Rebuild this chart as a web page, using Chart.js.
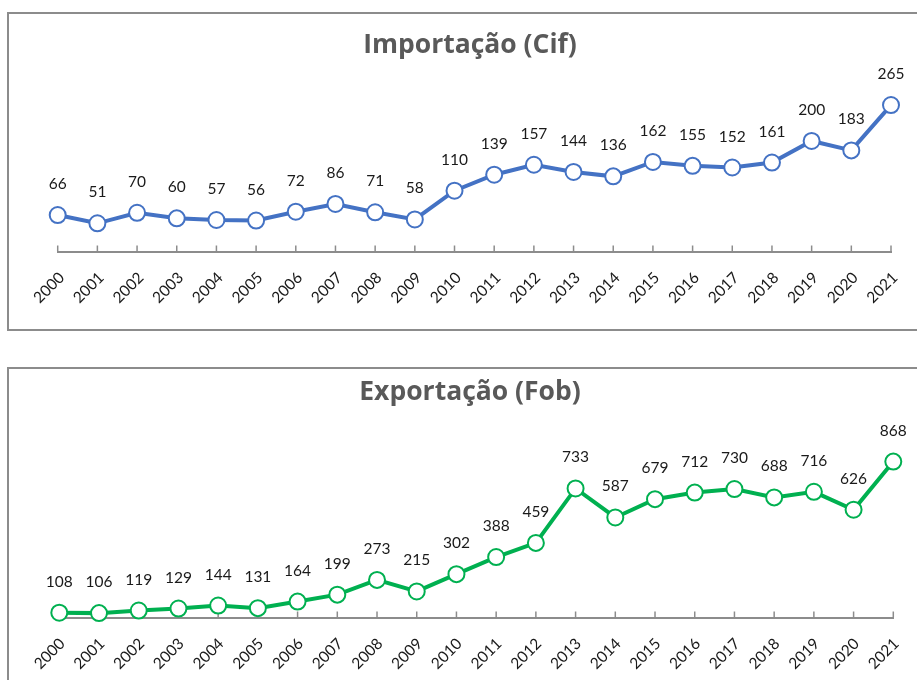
<!DOCTYPE html>
<html><head><meta charset="utf-8">
<script src="https://cdn.jsdelivr.net/npm/chart.js@4.4.1/dist/chart.umd.min.js"></script>
<style>
html,body{margin:0;padding:0;background:#fff;overflow:hidden;width:917px;height:680px;}
.box{position:absolute;border:2px solid #8c8c8c;box-sizing:border-box;}
canvas{position:absolute;}
</style></head><body>
<div class="box" style="left:7px;top:12px;width:940px;height:319px"></div>
<div class="box" style="left:7px;top:367px;width:940px;height:330px"></div>
<canvas id="c1" width="920" height="313" style="left:10px;top:15px"></canvas>
<canvas id="c2" width="920" height="310" style="left:10px;top:370px"></canvas>
<script>
const years = ['2000','2001','2002','2003','2004','2005','2006','2007','2008','2009','2010','2011','2012','2013','2014','2015','2016','2017','2018','2019','2020','2021'];
const importValues = [66,51,70,60,57,56,72,86,71,58,110,139,157,144,136,162,155,152,161,200,183,265];
const exportValues = [108,106,119,129,144,131,164,199,273,215,302,388,459,733,587,679,712,730,688,716,626,868];
const importTitle = 'Importação (Cif)';
const exportTitle = 'Exportação (Fob)';

const FONT = 'Lato, "Open Sans", sans-serif';
const TITLE_FONT = '"Open Sans", Lato, sans-serif';

const valueLabels = {
  id: 'valueLabels',
  afterDatasetsDraw(chart) {
    const ctx = chart.ctx;
    ctx.save();
    ctx.font = '15.5px ' + FONT;
    ctx.fillStyle = '#1a1a1a';
    ctx.textAlign = 'center';
    ctx.textBaseline = 'middle';
    chart.data.datasets.forEach((ds, di) => {
      chart.getDatasetMeta(di).data.forEach((el, i) => {
        ctx.fillText(String(ds.data[i]), el.x, el.y - 31);
      });
    });
    ctx.restore();
  }
};

const upTicks = {
  id: 'upTicks',
  beforeDatasetsDraw(chart) {
    const s = chart.scales.x;
    const ctx = chart.ctx;
    ctx.save();
    ctx.strokeStyle = '#8c8c8c';
    ctx.lineWidth = 1.5;
    for (let i = 0; i < s.ticks.length; i++) {
      const x = s.getPixelForTick(i);
      ctx.beginPath();
      ctx.moveTo(x, s.top);
      ctx.lineTo(x, s.top - 6);
      ctx.stroke();
    }
    ctx.restore();
  }
};

function makeChart(id, title, values, color, cfg) {
  return new Chart(document.getElementById(id), {
    type: 'line',
    data: {
      labels: years,
      datasets: [{
        data: values,
        borderColor: color,
        borderWidth: 4,
        pointRadius: 8,
        pointHoverRadius: 8,
        pointBorderWidth: 2,
        pointBackgroundColor: '#ffffff',
        pointBorderColor: color,
        tension: 0,
        clip: false
      }]
    },
    options: {
      responsive: false,
      animation: false,
      events: [],
      layout: { padding: { left: cfg.padLR, right: cfg.padLR, top: 0, bottom: 0 } },
      plugins: {
        legend: { display: false },
        tooltip: { enabled: false },
        title: {
          display: true,
          text: title,
          color: '#595959',
          font: { family: TITLE_FONT, size: 26.5, weight: 'bold', lineHeight: 1.25 },
          padding: { top: cfg.titleTop, bottom: cfg.titleBottom }
        }
      },
      scales: {
        x: {
          type: 'category',
          offset: false,
          grid: { display: false, drawTicks: false },
          border: { display: true, color: '#8c8c8c', width: 2 },
          ticks: {
            autoSkip: false,
            maxRotation: 45,
            minRotation: 45,
            color: '#1a1a1a',
            padding: cfg.tickPad,
            labelOffset: cfg.labelOffset,
            font: { family: FONT, size: 15.5 }
          },
          afterFit(scale) {
            scale.height = cfg.axisH;
            scale.paddingLeft = cfg.scalePadL;
            scale.paddingRight = 0;
            scale.paddingTop = 0;
            scale.paddingBottom = 0;
          }
        },
        y: {
          display: false,
          min: cfg.yMin,
          max: cfg.yMax
        }
      }
    },
    plugins: [upTicks, valueLabels]
  });
}

makeChart('c1', importTitle, importValues, '#4472C4', {
  yMin: 0, yMax: 300, padLR: 39, scalePadL: 47.7,
  titleTop: 13.5, titleBottom: 24.1, axisH: 76.5, tickPad: 17, labelOffset: 4
});
makeChart('c2', exportTitle, exportValues, '#00B050', {
  yMin: 84, yMax: 1000, padLR: 36.7, scalePadL: 49.3,
  titleTop: 5.5, titleBottom: 26.7, axisH: 62.5, tickPad: 17, labelOffset: 3
});
</script>
</body></html>
